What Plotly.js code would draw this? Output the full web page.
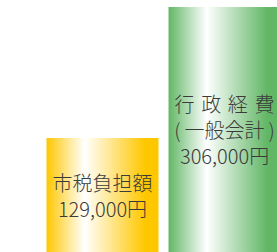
<!DOCTYPE html>
<html>
<head>
<meta charset="utf-8">
<script src="https://cdn.plot.ly/plotly-3.0.1.min.js"></script>
<style>
html,body{margin:0;padding:0;background:#fff;}
#chart{width:277px;height:252px;}
</style>
</head>
<body>
<div id="chart"></div>
<script>
// Data
const categories = ["市税負担額", "行政経費（一般会計）"];
const values = [129000, 306000];
const barLabels = ["市税負担額<br>129,000円", "行\u2004政\u2004経\u2004費<br>(\u2009一般会計\u2009)<br>306,000円"];

// Layout constants
const AXIS_MIN = -25000;
const AXIS_MAX = 315500;
const gradColors = [
  {edge: "#FFC700", mid: "#FFFFFF"},
  {edge: "#62B766", mid: "#FFFFFF"}
];

const trace = {
  type: "bar",
  x: [0, 1],
  y: values.map(v => v - AXIS_MIN),
  base: AXIS_MIN,
  width: 0.918,
  text: barLabels,
  textposition: "inside",
  insidetextanchor: "middle",
  textangle: 0,
  constraintext: "none",
  textfont: {family: "Noto Sans CJK JP, sans-serif", size: 20, weight: 300, color: "#3a3a3a"},
  marker: {color: ["#FFC700", "#62B766"], line: {width: 0}},
  hoverinfo: "none",
  customdata: categories
};

const layout = {
  width: 277, height: 252,
  margin: {l: 0, r: 0, t: 0, b: 0},
  paper_bgcolor: "#ffffff",
  plot_bgcolor: "#ffffff",
  showlegend: false,
  xaxis: {range: [-0.84, 1.43], visible: false, showgrid: false, zeroline: false, fixedrange: true},
  yaxis: {range: [AXIS_MIN, AXIS_MAX], visible: false, showgrid: false, zeroline: false, fixedrange: true}
};

Plotly.newPlot("chart", [trace], layout, {staticPlot: true, displayModeBar: false}).then(function(gd){
  const svg = gd.querySelector("svg.main-svg");
  const NS = "http://www.w3.org/2000/svg";
  let defs = svg.querySelector("defs");
  if (!defs) { defs = document.createElementNS(NS, "defs"); svg.insertBefore(defs, svg.firstChild); }
  gradColors.forEach(function(c, i){
    const g = document.createElementNS(NS, "linearGradient");
    g.setAttribute("id", "bargrad" + i);
    g.setAttribute("x1", "0"); g.setAttribute("y1", "0");
    g.setAttribute("x2", "1"); g.setAttribute("y2", "0");
    [[0, c.edge], [0.34, c.mid], [0.88, c.edge], [1, c.edge]].forEach(function(s){
      const st = document.createElementNS(NS, "stop");
      st.setAttribute("offset", s[0]);
      st.setAttribute("stop-color", s[1]);
      g.appendChild(st);
    });
    defs.appendChild(g);
  });
  const paths = gd.querySelectorAll(".trace.bars .point path");
  paths.forEach(function(p, i){ p.style.fill = "url(#bargrad" + i + ")"; });
});
</script>
</body>
</html>
